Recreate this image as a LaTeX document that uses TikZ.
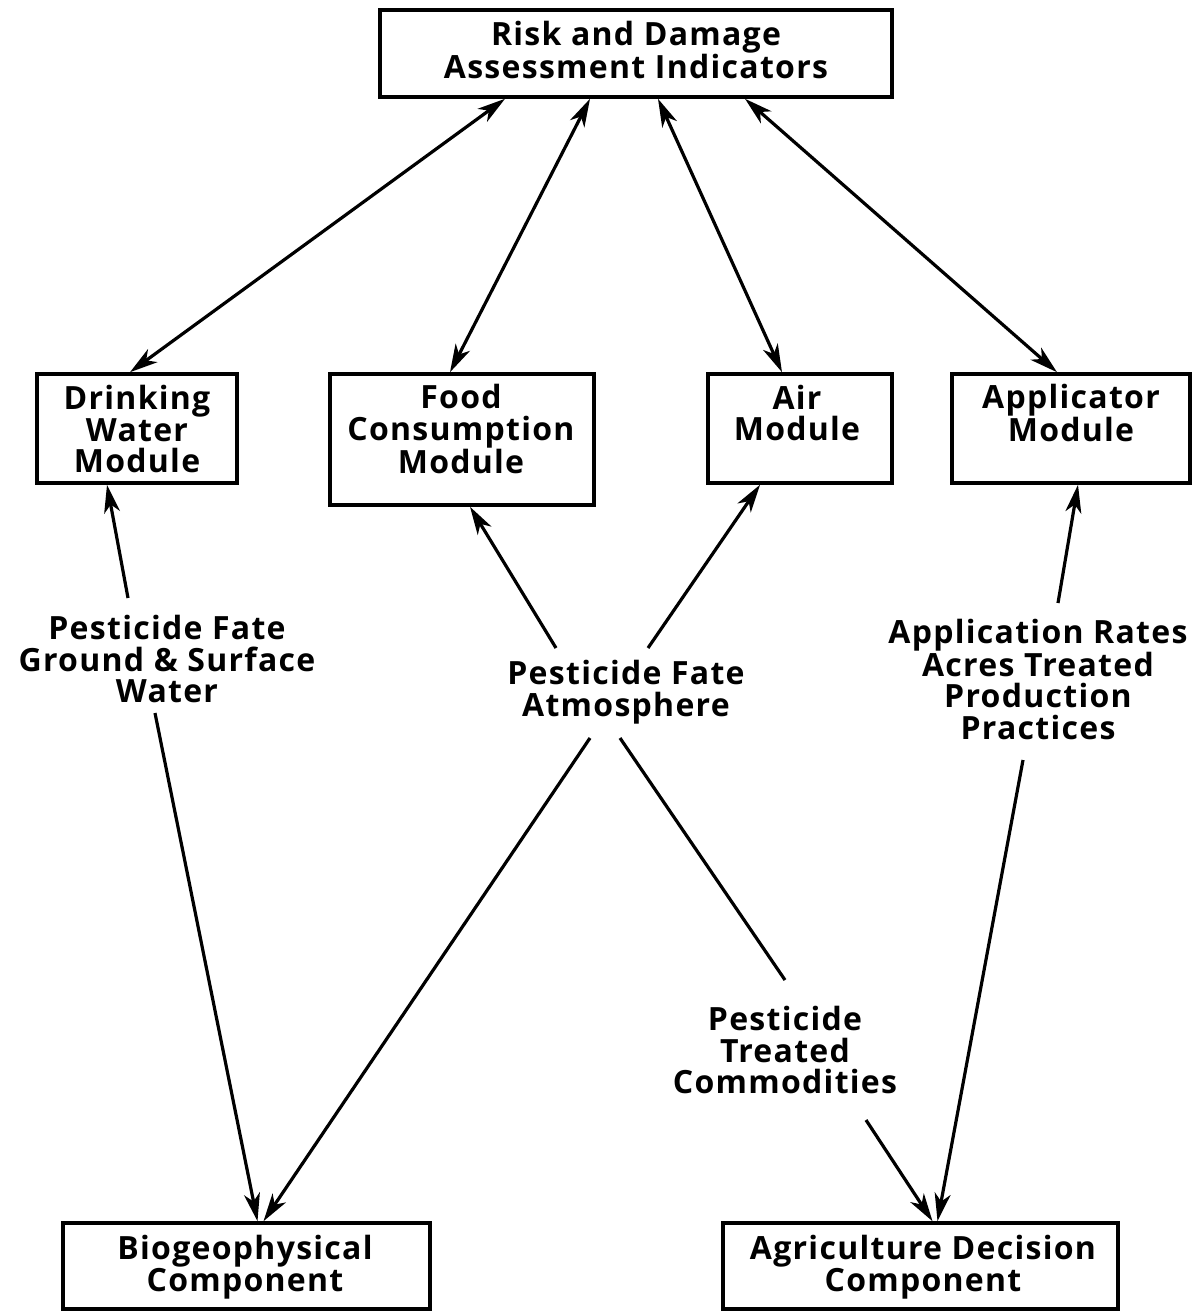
\documentclass[tikz,border=0pt]{standalone}
\usepackage{fontspec}
\newfontfamily\labfont[LetterSpace=4]{Open Sans}
\usetikzlibrary{arrows.meta}
\begin{document}
\begin{tikzpicture}[x=1pt,y=-1pt,
  box/.style={draw,line width=3.6pt,inner sep=0pt},
  txt/.style={align=center,inner sep=0pt,font=\labfont\bfseries\fontsize{32}{31.5}\selectfont},
  conn/.style={line width=3.2pt},
  tip/.tip={Stealth[length=28pt,width=16pt,inset=8pt]},
  arr/.style={conn,-tip},
  darr/.style={conn,tip-tip}]
\useasboundingbox (0,0) rectangle (1200,1311);
% boxes
\node[box,minimum width=512pt,minimum height=87pt] (top) at (636,53.5) {};
\node[box,minimum width=200pt,minimum height=109pt] (drink) at (137,428.5) {};
\node[box,minimum width=264pt,minimum height=131pt] (food) at (462,439.5) {};
\node[box,minimum width=184pt,minimum height=109pt] (air) at (800,428.5) {};
\node[box,minimum width=238pt,minimum height=109pt] (app) at (1071,428.5) {};
\node[box,minimum width=367pt,minimum height=86pt] (bio) at (246.5,1266) {};
\node[box,minimum width=395pt,minimum height=86pt] (agr) at (920.5,1266) {};
% box texts
\node[txt] (topt) at (636,50) {Risk and Damage\\Assessment Indicators};
\node[txt] (drinkt) at (137,429) {Drinking\\Water\\Module};
\node[txt] (foodt) at (461,429) {Food\\Consumption\\Module};
\node[txt] (airt) at (797,413) {Air\\Module};
\node[txt] (appt) at (1071,413) {Applicator\\Module};
\node[txt] (biot) at (245,1267) {Biogeophysical\\Component};
\node[txt] (agrt) at (923,1267) {Agriculture Decision\\Component};
% labels
\node[txt] (pfw) at (167,659) {Pesticide Fate\\Ground \& Surface\\Water};
\node[txt] (pfa) at (626,692) {Pesticide Fate\\Atmosphere};
\node[txt] (apr) at (1038,679) {Application Rates\\Acres Treated\\Production\\Practices};
\node[txt] (ptc) at (785,1050) {Pesticide\\Treated\\Commodities};
% free ends near labels
\coordinate (pfwN) at (128,598);
\coordinate (pfwS) at (155,713);
\coordinate (pfaNL) at (556,648);
\coordinate (pfaNR) at (648,648);
\coordinate (pfaSL) at (590,738);
\coordinate (pfaSR) at (620,738);
\coordinate (ptcN) at (785,980);
\coordinate (ptcS) at (866,1120);
\coordinate (aprN) at (1058,603);
\coordinate (aprS) at (1023,760);
% top double arrows
\draw[darr] ([xshift=-131pt]top.south) -- ([xshift=-7pt]drink.north);
\draw[darr] ([xshift=-46pt]top.south) -- ([xshift=-12pt]food.north);
\draw[darr] ([xshift=22pt]top.south) -- ([xshift=-18pt]air.north);
\draw[darr] ([xshift=109pt]top.south) -- ([xshift=-14pt]app.north);
% up arrows
\draw[arr] (pfwN) -- ([xshift=-30pt]drink.south);
\draw[arr] (pfaNL) -- ([xshift=8pt]food.south);
\draw[arr] (pfaNR) -- ([xshift=-40pt]air.south);
\draw[arr] (aprN) -- ([xshift=7pt]app.south);
% down arrows
\draw[arr] (pfwS) -- ([xshift=11pt]bio.north);
\draw[arr] (pfaSL) -- ([xshift=17pt]bio.north);
\draw[conn] (pfaSR) -- (ptcN);
\draw[arr] (ptcS) -- ([xshift=12pt]agr.north);
\draw[arr] (aprS) -- ([xshift=17pt]agr.north);
\end{tikzpicture}
\end{document}
